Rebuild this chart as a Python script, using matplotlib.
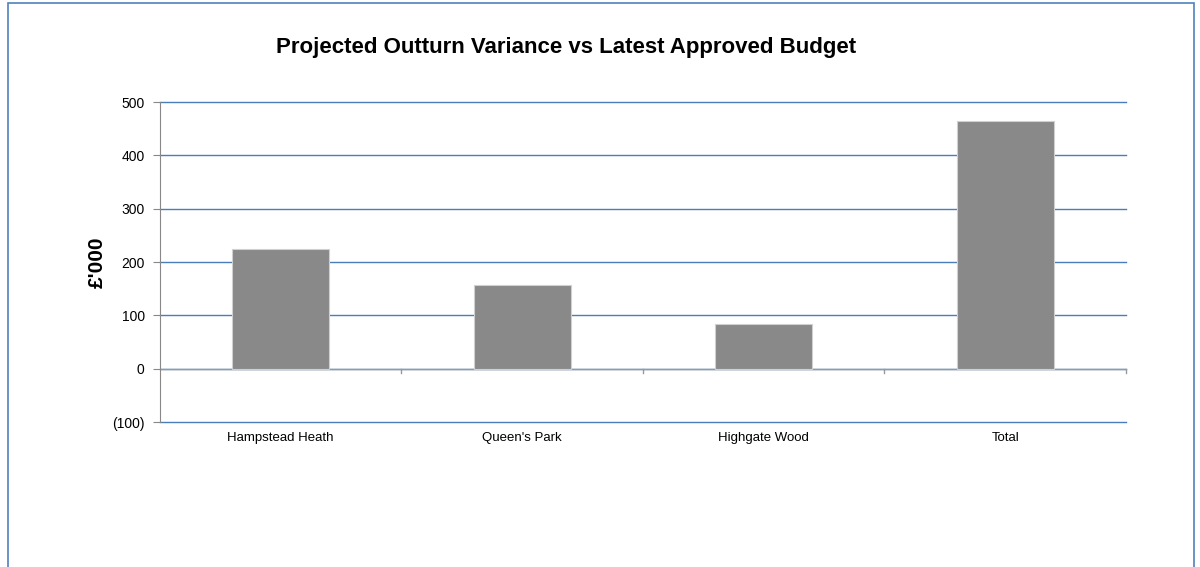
import matplotlib.pyplot as plt
from matplotlib.patches import Rectangle
from matplotlib.ticker import FuncFormatter

# variance by site, £'000
sites = ["Hampstead Heath", "Queen's Park", "Highgate Wood", "Total"]
variance = [224, 157, 84, 465]

plt.rcParams['font.family'] = ['Liberation Sans', 'DejaVu Sans']

fig = plt.figure(figsize=(12, 5.67), dpi=100)
ax = fig.add_axes([0.1333, 0.2557, 0.805, 0.5644])

# chart area border
fig.patches.append(Rectangle((0.007, -0.05), 0.988, 1.044, transform=fig.transFigure,
                             fill=False, edgecolor='#4f81bd', linewidth=1.2))

x = range(len(sites))
ax.bar(x, variance, width=0.4, color='#898989', edgecolor='#d0d0d0', linewidth=0.8, zorder=3)

ax.set_xlim(-0.5, len(sites) - 0.5)
ax.set_ylim(-100, 500)
ax.set_yticks(range(-100, 501, 100))
ax.yaxis.set_major_formatter(FuncFormatter(lambda v, p: f"({abs(int(v))})" if v < 0 else f"{int(v)}"))
ax.set_axisbelow(True)
ax.grid(axis='y', color='#4a7ebb', linewidth=1.0)
for gl in ax.get_ygridlines():
    gl.set_clip_on(False)
ax.tick_params(axis='y', length=5, color='#888888', labelsize=10, pad=6)

# zero line with category divider ticks
ax.axhline(0, color='#999999', linewidth=1.0, zorder=2)
for b in [0.5, 1.5, 2.5, 3.5]:
    ax.plot([b, b], [0, -8], color='#999999', linewidth=1.0, clip_on=False, zorder=2)

ax.set_xticks(list(x))
ax.set_xticklabels(sites, fontsize=9.5)
ax.tick_params(axis='x', length=0, pad=7)

for s in ['top', 'right', 'bottom']:
    ax.spines[s].set_visible(False)
ax.spines['left'].set_color('#888888')

ax.set_ylabel("£'000", fontsize=15, fontweight='bold', labelpad=4)
fig.text(0.472, 0.917, "Projected Outturn Variance vs Latest Approved Budget",
         ha='center', va='center', fontsize=16, fontweight='bold')

fig.savefig('out.png', dpi=100)
